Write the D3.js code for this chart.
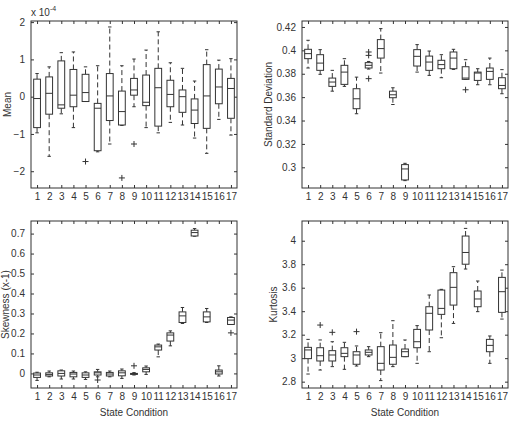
<!DOCTYPE html>
<html>
<head>
<meta charset="utf-8">
<script src="https://cdn.jsdelivr.net/npm/d3@7"></script>
<style>
  body { margin: 0; background: #fff; }
  svg { display: block; font-family: "Liberation Sans", Arial, sans-serif; }
</style>
</head>
<body>
<script>
const states = d3.range(1, 18);

// each row: [lower whisker, q1, median, q3, upper whisker]
const meanStats = [
  [-0.97, -0.83, -0.05, 0.47, 0.62], [-1.60, -0.47, 0.09, 0.53, 0.80],
  [-0.46, -0.31, -0.22, 0.96, 1.18], [-0.83, -0.27, 0.04, 0.73, 1.20],
  [-0.12, -0.13, 0.11, 0.60, 0.80], [-1.48, -1.45, -0.31, -0.18, 0.83],
  [-1.27, -0.64, 0.02, 0.62, 1.87], [-0.77, -0.76, -0.40, 0.15, 0.83],
  [-0.27, 0.04, 0.18, 0.49, 1.01], [-0.83, -0.24, -0.15, 0.58, 1.25],
  [-0.97, -0.79, 0.24, 0.76, 1.74], [-0.69, -0.27, 0.06, 0.44, 0.91],
  [-0.76, -0.42, 0.00, 0.18, 0.76], [-1.11, -0.72, -0.36, -0.06, 0.42],
  [-1.52, -0.85, 0.02, 0.86, 1.26], [-0.61, -0.19, 0.26, 0.74, 0.98],
  [-1.03, -0.58, 0.22, 0.49, 1.02]
];
const meanOutliers = [[5, -1.74], [8, -2.18], [9, -1.27]];

const stdStats = [
  [0.3849, 0.3929, 0.3972, 0.4009, 0.4086], [0.3795, 0.3829, 0.3891, 0.3963, 0.4006],
  [0.3651, 0.3692, 0.3729, 0.3763, 0.3829], [0.3692, 0.3709, 0.3814, 0.3872, 0.3929],
  [0.3458, 0.3501, 0.3586, 0.3672, 0.3771], [0.3840, 0.3849, 0.3872, 0.3895, 0.3905],
  [0.3806, 0.3934, 0.4015, 0.4092, 0.4186], [0.3537, 0.3595, 0.3620, 0.3651, 0.3680],
  [0.2886, 0.2892, 0.2986, 0.3023, 0.3034], [0.3814, 0.3866, 0.3949, 0.4006, 0.4049],
  [0.3786, 0.3829, 0.3900, 0.3951, 0.3994], [0.3766, 0.3843, 0.3878, 0.3915, 0.3963],
  [0.3837, 0.3843, 0.3934, 0.3986, 0.4009], [0.3752, 0.3752, 0.3763, 0.3860, 0.3920],
  [0.3706, 0.3743, 0.3806, 0.3814, 0.3843], [0.3706, 0.3752, 0.3820, 0.3849, 0.3934],
  [0.3629, 0.3672, 0.3700, 0.3766, 0.3835]
];
const stdOutliers = [[6, 0.3986], [6, 0.3957], [6, 0.3758], [14, 0.3663]];

const skewStats = [
  [-0.035, -0.020, -0.008, 0.002, 0.006], [-0.017, -0.013, -0.005, 0.003, 0.012],
  [-0.028, -0.013, 0.000, 0.013, 0.017], [-0.028, -0.017, -0.003, 0.005, 0.012],
  [-0.030, -0.020, -0.008, 0.003, 0.008], [-0.017, -0.008, 0.003, 0.008, 0.020],
  [-0.017, -0.013, -0.003, 0.005, 0.012], [-0.025, -0.012, 0.003, 0.013, 0.022],
  [-0.008, -0.005, -0.002, 0.000, 0.004], [-0.005, 0.008, 0.020, 0.028, 0.037],
  [0.083, 0.117, 0.133, 0.142, 0.147], [0.138, 0.162, 0.192, 0.203, 0.213],
  [0.250, 0.255, 0.288, 0.308, 0.330], [0.687, 0.688, 0.705, 0.717, 0.725],
  [0.255, 0.258, 0.283, 0.308, 0.325], [-0.013, -0.003, 0.008, 0.017, 0.038],
  [0.245, 0.245, 0.267, 0.280, 0.283]
];
const skewOutliers = [[6, -0.033], [9, 0.038], [17, 0.203]];

const kurtStats = [
  [2.865, 2.996, 3.070, 3.092, 3.160], [2.899, 2.976, 3.021, 3.089, 3.155],
  [2.928, 2.976, 3.027, 3.064, 3.140], [2.905, 3.013, 3.041, 3.089, 3.135],
  [2.933, 2.948, 3.027, 3.055, 3.104], [3.013, 3.027, 3.050, 3.070, 3.098],
  [2.809, 2.899, 2.956, 3.098, 3.217], [2.928, 2.948, 3.007, 3.112, 3.319],
  [3.013, 3.013, 3.055, 3.078, 3.155], [2.956, 3.089, 3.140, 3.245, 3.277],
  [3.055, 3.240, 3.382, 3.438, 3.538], [3.174, 3.373, 3.424, 3.580, 3.586],
  [3.296, 3.452, 3.603, 3.728, 3.779], [3.759, 3.800, 3.900, 4.040, 4.105],
  [3.396, 3.438, 3.504, 3.572, 3.657], [2.956, 3.055, 3.109, 3.160, 3.189],
  [3.333, 3.390, 3.566, 3.688, 3.750]
];
const kurtOutliers = [[2, 3.282], [3, 3.220], [5, 3.226]];

const meanTicks = [-2, -1, 0, 1, 2];
const stdTicks = [0.3, 0.32, 0.34, 0.36, 0.38, 0.4, 0.42];
const skewTicks = [0, 0.1, 0.2, 0.3, 0.4, 0.5, 0.6, 0.7];
const kurtTicks = [2.8, 3, 3.2, 3.4, 3.6, 3.8, 4];

const width = 514;
const height = 422;
const ink = '#333';

const svg = d3.select('body')
  .append('svg')
  .attr('width', width)
  .attr('height', height);

function drawPanel(opt) {
  const g = svg.append('g');
  const x = d3.scaleLinear().domain([0.5, 17.5]).range([opt.left, opt.left + opt.w]);
  const y = d3.scaleLinear().domain(opt.domain).range([opt.top + opt.h, opt.top]);
  const bw = (x(1) - x(0)) * 0.56;
  const cw = bw * 0.5;

  // axes, ticks pointing inward like matlab
  const styleAxis = sel => {
    sel.select('.domain').remove();
    sel.selectAll('line').attr('stroke', ink);
    sel.selectAll('text')
      .attr('fill', ink)
      .style('font-size', '10px')
      .style('font-family', '"Liberation Sans", Arial, sans-serif');
  };

  g.append('g')
    .attr('transform', `translate(0, ${opt.top + opt.h})`)
    .call(d3.axisBottom(x).tickValues(states).tickSize(-3).tickPadding(5))
    .call(styleAxis);
  g.append('g')
    .attr('transform', `translate(0, ${opt.top})`)
    .call(d3.axisTop(x).tickValues(states).tickSize(-3).tickFormat(''))
    .call(styleAxis);
  g.append('g')
    .attr('transform', `translate(${opt.left}, 0)`)
    .call(d3.axisLeft(y).tickValues(opt.ticks).tickSize(-3).tickPadding(6).tickFormat(d3.format('')))
    .call(styleAxis);
  g.append('g')
    .attr('transform', `translate(${opt.left + opt.w}, 0)`)
    .call(d3.axisRight(y).tickValues(opt.ticks).tickSize(-3).tickFormat(''))
    .call(styleAxis);

  g.append('rect')
    .attr('x', opt.left)
    .attr('y', opt.top)
    .attr('width', opt.w)
    .attr('height', opt.h)
    .attr('fill', 'none')
    .attr('stroke', ink);

  // boxes
  const box = g.selectAll('.box')
    .data(opt.stats)
    .enter()
    .append('g')
    .attr('class', 'box');

  box.append('line')
    .attr('x1', (d, i) => x(i + 1)).attr('x2', (d, i) => x(i + 1))
    .attr('y1', d => y(d[3])).attr('y2', d => y(d[4]))
    .attr('stroke', ink).attr('stroke-dasharray', '5,3');
  box.append('line')
    .attr('x1', (d, i) => x(i + 1)).attr('x2', (d, i) => x(i + 1))
    .attr('y1', d => y(d[1])).attr('y2', d => y(d[0]))
    .attr('stroke', ink).attr('stroke-dasharray', '5,3');

  box.append('line')
    .attr('x1', (d, i) => x(i + 1) - cw / 2).attr('x2', (d, i) => x(i + 1) + cw / 2)
    .attr('y1', d => y(d[4])).attr('y2', d => y(d[4]))
    .attr('stroke', ink);
  box.append('line')
    .attr('x1', (d, i) => x(i + 1) - cw / 2).attr('x2', (d, i) => x(i + 1) + cw / 2)
    .attr('y1', d => y(d[0])).attr('y2', d => y(d[0]))
    .attr('stroke', ink);

  box.append('rect')
    .attr('x', (d, i) => x(i + 1) - bw / 2)
    .attr('y', d => y(d[3]))
    .attr('width', bw)
    .attr('height', d => Math.max(y(d[1]) - y(d[3]), 1))
    .attr('fill', '#fff')
    .attr('stroke', ink);

  box.append('line')
    .attr('x1', (d, i) => x(i + 1) - bw / 2).attr('x2', (d, i) => x(i + 1) + bw / 2)
    .attr('y1', d => y(d[2])).attr('y2', d => y(d[2]))
    .attr('stroke', ink);

  // outliers as '+'
  g.selectAll('.out')
    .data(opt.outliers)
    .enter()
    .append('path')
    .attr('class', 'out')
    .attr('d', d => {
      const cx = x(d[0]), cy = y(d[1]), r = 3;
      return `M${cx - r},${cy}H${cx + r}M${cx},${cy - r}V${cy + r}`;
    })
    .attr('stroke', ink)
    .attr('fill', 'none');

  // y label
  g.append('text')
    .attr('transform', `translate(${opt.ylabelX}, ${opt.top + opt.h / 2}) rotate(-90)`)
    .attr('text-anchor', 'middle')
    .attr('fill', ink)
    .style('font-size', '10px')
    .text(opt.ylabel);

  if (opt.xlabel) {
    g.append('text')
      .attr('x', opt.left + opt.w / 2)
      .attr('y', opt.top + opt.h + 28)
      .attr('text-anchor', 'middle')
      .attr('fill', ink)
      .style('font-size', '10px')
      .text(opt.xlabel);
  }
}

drawPanel({
  left: 31, top: 21, w: 206, h: 167,
  domain: [-2.45, 2.03], ticks: meanTicks,
  stats: meanStats, outliers: meanOutliers,
  ylabel: 'Mean', ylabelX: 11
});
drawPanel({
  left: 302, top: 21, w: 206, h: 167,
  domain: [0.2823, 0.4251], ticks: stdTicks,
  stats: stdStats, outliers: stdOutliers,
  ylabel: 'Standard Deviation', ylabelX: 272
});
drawPanel({
  left: 31, top: 221, w: 206, h: 167,
  domain: [-0.073, 0.763], ticks: skewTicks,
  stats: skewStats, outliers: skewOutliers,
  ylabel: 'Skewness (x-1)', ylabelX: 9, xlabel: 'State Condition'
});
drawPanel({
  left: 302, top: 221, w: 206, h: 167,
  domain: [2.746, 4.168], ticks: kurtTicks,
  stats: kurtStats, outliers: kurtOutliers,
  ylabel: 'Kurtosis', ylabelX: 277, xlabel: 'State Condition'
});

// exponent note on the mean panel
const expo = svg.append('text')
  .attr('x', 31)
  .attr('y', 16)
  .attr('fill', ink)
  .style('font-size', '10px');
expo.append('tspan').text('x 10');
expo.append('tspan')
  .attr('dy', -5)
  .style('font-size', '7px')
  .text('-4');
</script>
</body>
</html>
